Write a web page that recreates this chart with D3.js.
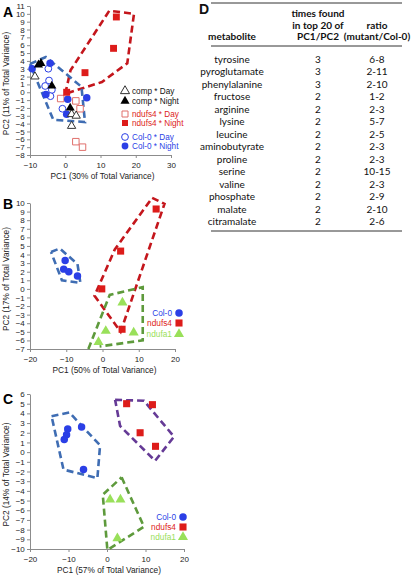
<!DOCTYPE html>
<html><head><meta charset="utf-8">
<script src="https://cdn.jsdelivr.net/npm/d3@7"></script>
<style>
html,body{margin:0;padding:0;background:#fff;}
svg{display:block;font-family:"Liberation Sans",Arial,sans-serif;}
</style></head>
<body><svg id="c" width="414" height="577"></svg>
<script>
// ---------- DATA ----------
// Panel A
const aColNight = [[-9.4,3.0],[-4.3,3.7],[-5.5,-0.3],[0.7,-0.9],[6.1,-0.7],[0.4,-2.8]];
const aColDay   = [[-4.8,3.0],[-4.6,1.5],[-5.7,0.8],[-3.8,0.3],[-4.2,-0.5],[-0.8,-2.1]];
const aCompNight= [[-7.6,3.5],[-6.9,3.7],[-3.8,0.8],[1.4,-2.0]];
const aCompDay  = [[-8.6,2.0],[1.8,-2.8],[3.1,-3.0],[1.8,-4.3]];
const aNdDay    = [[-1.3,-0.8],[3.0,-1.1],[4.2,-2.1],[3.0,-6.3],[4.9,-7.0]];
const aNdNight  = [[0.4,0.0],[5.6,2.5],[13.7,5.6],[14.5,9.6]];
const aHullRed  = [[0.0,-0.2],[1.5,2.8],[12.5,10.4],[19.5,10.0],[17.6,3.7],[10.4,1.3],[0.0,-0.2]];
const aHullBlue = [[-10,3.6],[-5.5,4.5],[4.6,0.7],[5.6,-3.8],[-3.4,-3.5],[-10,3.6]];
const aXTicks = [-10,0,10,20,30];
const aYTicks = d3.range(-8,12);
const aLegend = ["comp * Day","comp * Night","ndufs4 * Day","ndufs4 * Night","Col-0 * Day","Col-0 * Night"];
// Panel B
const bCol  = [[-10.3,3.3],[-10.7,2.3],[-9.3,2.0],[-6.9,1.5]];
const bNd4  = [[-0.2,0.0],[5.0,4.4],[14.8,9.3],[5.4,-4.7]];
const bNda1 = [[5.5,-1.6],[0.9,-4.9],[8.6,-5.1],[-1.1,-6.2]];
const bHullBlue  = [[-14.2,4.3],[-11.8,4.7],[-6.9,2.9],[-6.1,0.7],[-11.2,1.0],[-14.2,4.3]];
const bHullRed   = [[13.7,10.6],[17.1,9.9],[5.0,-5.0],[-2.2,-0.8],[3.4,4.6],[13.7,10.6]];
const bHullGreen = [[-3.9,-7.0],[2.0,-0.7],[11.1,0.2],[11.1,-6.0],[-0.8,-6.7]];
const bXTicks = [-20,-10,0,10,20];
const bYTicks = d3.range(-7,11);
// Panel C
const cCol  = [[-10.2,2.4],[-10.5,1.8],[-11.1,1.3],[-6.6,2.6],[-6.1,-1.8]];
const cNd4  = [[5.1,5.0],[11.8,4.9],[8.6,2.0],[12.6,0.6]];
const cNda1 = [[0.8,-4.9],[3.5,-4.9],[2.7,-8.9]];
const cHullBlue   = [[-14.4,3.7],[-9.8,4.1],[-1.8,0.7],[-2.5,-2.7],[-11.3,-1.8],[-14.4,3.7]];
const cHullPurple = [[2.1,5.4],[9.6,5.3],[17.4,1.6],[12.5,-0.9],[3.4,2.7],[2.1,5.4]];
const cHullGreen  = [[3.8,-2.6],[9.6,-7.7],[0.1,-10.1],[-1.1,-4.4],[3.8,-2.6]];
const cXTicks = [-20,-10,0,10,20];
const cYTicks = d3.range(-10,7);
const groupLabels = ["Col-0","ndufs4","ndufa1"];
// Panel D (table)
const tMetabolites = ["tyrosine","pyroglutamate","phenylalanine","fructose","arginine","lysine","leucine","aminobutyrate","proline","serine","valine","phosphate","malate","citramalate"];
const tTimes = [3,3,3,2,2,2,2,2,2,2,2,2,2,2];
const tRatio = ["6-8","2-11","2-10","1-2","2-3","5-7","2-5","2-3","2-3","10-15","2-3","2-9","2-10","2-6"];

// ---------- STYLE ----------
const BLUE="#2b3fe6", RED="#dd1c1a", GREEN="#99e05a";
const HBLUE="#3f6db3", HRED="#c4161c", HGREEN="#5e9a3c", HPURPLE="#653a96";
const svg = d3.select("#c");

function panel(o){
  const g = svg.append("g");
  const x = d3.scaleLinear().domain(o.xd).range(o.xr);
  const y = d3.scaleLinear().domain(o.yd).range(o.yr);
  const ax = g.append("g").attr("transform",`translate(0,${o.yr[0]})`)
    .call(d3.axisBottom(x).tickValues(o.xt).tickSize(3).tickSizeOuter(0));
  const ay = g.append("g").attr("transform",`translate(${o.xr[0]},0)`)
    .call(d3.axisLeft(y).tickValues(o.yt).tickSize(3).tickSizeOuter(0));
  [ax,ay].forEach(a=>{
    a.selectAll("path,line").attr("stroke","#8c8c8c");
    a.selectAll("text").attr("font-size",8).attr("fill","#222").attr("font-family","Liberation Sans, Arial, sans-serif");
  });
  ax.selectAll("text").attr("dy","0.9em");
  ay.selectAll("text").attr("dx","0.1em");
  g.append("text").attr("x",(o.xr[0]+o.xr[1])/2+2).attr("y",o.yr[0]+24)
    .attr("text-anchor","middle").attr("font-size",8.3).attr("fill","#222").text(o.xlab);
  g.append("text").attr("transform",`translate(${o.ylx},${(o.yr[0]+o.yr[1])/2+3}) rotate(-90)`)
    .attr("text-anchor","middle").attr("font-size",8.3).attr("fill","#222").text(o.ylab);
  g.append("text").attr("x",o.lab[0]).attr("y",o.lab[1]).attr("font-size",14)
    .attr("font-weight","bold").attr("fill","#000").text(o.letter);
  const line = d3.line().x(d=>x(d[0])).y(d=>y(d[1]));
  o.hulls.forEach(h=>{
    g.append("path").attr("d",line(h.pts)).attr("fill","none").attr("stroke",h.c)
      .attr("stroke-width",2.6).attr("stroke-dasharray","7,4");
  });
  o.series.forEach(s=>{
    const sym = d3.symbol().type(s.t).size(s.sz);
    g.selectAll(null).data(s.d).enter().append("path")
      .attr("d",sym).attr("transform",d=>`translate(${x(d[0])},${y(d[1])})`)
      .attr("fill",s.open?"#fff":s.c).attr("stroke",s.open?s.c:"none").attr("stroke-width",1);
  });
  return {g,x,y};
}

// Panel A
const A = panel({xd:[-10,30],xr:[30,171],yd:[-8,11],yr:[155,6],xt:aXTicks,yt:aYTicks,
  xlab:"PC1 (30% of Total Variance)",ylab:"PC2 (11% of Total Variance)",ylx:9,lab:[3,17],letter:"A",
  hulls:[{pts:aHullRed,c:HRED},{pts:aHullBlue,c:HBLUE}],
  series:[
    {d:aNdDay,t:d3.symbolSquare,sz:42,c:"#e0706c",open:true},
    {d:aColDay,t:d3.symbolCircle,sz:36,c:BLUE,open:true},
    {d:aColNight,t:d3.symbolCircle,sz:44,c:BLUE},
    {d:aNdNight,t:d3.symbolSquare,sz:48,c:RED},
    {d:aCompDay,t:d3.symbolTriangle,sz:30,c:"#333",open:true},
    {d:aCompNight,t:d3.symbolTriangle,sz:36,c:"#000"}
  ]});
const aLegStyle=[
  {t:d3.symbolTriangle,c:"#333",open:true,tc:"#111"},
  {t:d3.symbolTriangle,c:"#000",tc:"#111"},
  {t:d3.symbolSquare,c:"#e0706c",open:true,tc:RED},
  {t:d3.symbolSquare,c:RED,tc:RED},
  {t:d3.symbolCircle,c:BLUE,open:true,tc:BLUE},
  {t:d3.symbolCircle,c:BLUE,tc:BLUE}];
const aLegY=[91,101,114,123,137,146];
aLegend.forEach((lbl,i)=>{
  const st=aLegStyle[i];
  A.g.append("path").attr("d",d3.symbol().type(st.t).size(36)())
    .attr("transform",`translate(125,${aLegY[i]})`)
    .attr("fill",st.open?"#fff":st.c).attr("stroke",st.open?st.c:"none");
  A.g.append("text").attr("x",132).attr("y",aLegY[i]+3).attr("font-size",8.2).attr("fill",st.tc).text(lbl);
});

function groupLegend(P,xSym,ys){
  const st=[{t:d3.symbolCircle,c:BLUE,sz:44},{t:d3.symbolSquare,c:RED,sz:50},{t:d3.symbolTriangle,c:GREEN,sz:44}];
  groupLabels.forEach((lbl,i)=>{
    P.g.append("text").attr("x",xSym-7).attr("y",ys[i]+3).attr("text-anchor","end")
      .attr("font-size",8.3).attr("fill",st[i].c).text(lbl);
    P.g.append("path").attr("d",d3.symbol().type(st[i].t).size(st[i].sz)())
      .attr("transform",`translate(${xSym},${ys[i]})`).attr("fill",st[i].c);
  });
}

// Panel B
const B = panel({xd:[-20,20],xr:[30,175],yd:[-7,10],yr:[349,203],xt:bXTicks,yt:bYTicks,
  xlab:"PC1 (50% of Total Variance)",ylab:"PC2 (17% of Total Variance)",ylx:9,lab:[3,209],letter:"B",
  hulls:[{pts:bHullBlue,c:HBLUE},{pts:bHullRed,c:HRED},{pts:bHullGreen,c:HGREEN}],
  series:[
    {d:bCol,t:d3.symbolCircle,sz:44,c:BLUE},
    {d:bNd4,t:d3.symbolSquare,sz:50,c:RED},
    {d:bNda1,t:d3.symbolTriangle,sz:44,c:GREEN}
  ]});
groupLegend(B,179,[313,323,334]);

// Panel C
const C = panel({xd:[-20,20],xr:[30,184],yd:[-10,6],yr:[549,394],xt:cXTicks,yt:cYTicks,
  xlab:"PC1 (57% of Total Variance)",ylab:"PC2 (14% of Total Variance)",ylx:9,lab:[3,404],letter:"C",
  hulls:[{pts:cHullBlue,c:HBLUE},{pts:cHullPurple,c:HPURPLE},{pts:cHullGreen,c:HGREEN}],
  series:[
    {d:cCol,t:d3.symbolCircle,sz:44,c:BLUE},
    {d:cNd4,t:d3.symbolSquare,sz:50,c:RED},
    {d:cNda1,t:d3.symbolTriangle,sz:44,c:GREEN}
  ]});
groupLegend(C,183,[517,527,537]);

// Panel D table
const T = svg.append("g").attr("font-family","Lato, 'Open Sans', sans-serif").attr("fill","#111");
T.append("text").attr("x",199).attr("y",14).attr("font-size",14).attr("font-weight","bold")
  .attr("font-family","Liberation Sans, Arial, sans-serif").text("D");
const colX=[232,318,377];
const rowY=d3.scaleLinear().domain([0,tMetabolites.length-1]).range([63,225]);
[3,46,231].forEach(yy=>T.append("line").attr("x1",211).attr("x2",402).attr("y1",yy).attr("y2",yy)
  .attr("stroke","#333").attr("stroke-width",1));
const hdr=[[colX[0],40,"metabolite"],[colX[1],17,"times found"],[colX[1],28.5,"in top 20 of"],[colX[1],40,"PC1/PC2"],[colX[2],28.5,"ratio"],[colX[2],40,"(mutant/Col-0)"]];
hdr.forEach(h=>T.append("text").attr("x",h[0]).attr("y",h[1]).attr("text-anchor","middle")
  .attr("font-size",10).attr("font-weight","bold").text(h[2]));
tMetabolites.forEach((m,i)=>{
  T.append("text").attr("x",colX[0]).attr("y",rowY(i)).attr("text-anchor","middle").attr("font-size",10).text(m);
  T.append("text").attr("x",colX[1]).attr("y",rowY(i)).attr("text-anchor","middle").attr("font-size",10).text(tTimes[i]);
  T.append("text").attr("x",colX[2]).attr("y",rowY(i)).attr("text-anchor","middle").attr("font-size",10).text(tRatio[i]);
});
</script>
</body></html>
